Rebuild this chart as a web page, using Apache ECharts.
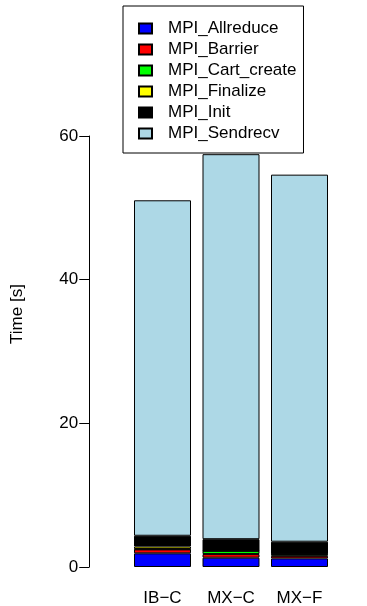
<!DOCTYPE html>
<html>
<head>
<meta charset="utf-8">
<script src="https://cdn.jsdelivr.net/npm/echarts@6/dist/echarts.min.js"></script>
<style>
html,body{margin:0;padding:0;background:#fff;}
#chart{width:367px;height:606px;}
</style>
</head>
<body>
<div id="chart"></div>
<script>
const categories = ['IB\u2212C', 'MX\u2212C', 'MX\u2212F'];
const seriesNames = ['MPI_Allreduce', 'MPI_Barrier', 'MPI_Cart_create', 'MPI_Finalize', 'MPI_Init', 'MPI_Sendrecv'];
const allreduce  = [1.9, 1.3, 1.2];
const barrier    = [0.55, 0.5, 0.35];
const cartCreate = [0.05, 0.45, 0.25];
const finalize   = [0.35, 0.02, 0.02];
const init       = [1.5, 1.6, 1.7];
const sendrecv   = [46.7, 53.6, 51.1];
const yTicks = [0, 20, 40, 60];
const yTitle = 'Time [s]';
const colors = ['#0000FF', '#FF0000', '#00FF00', '#FFFF00', '#000000', '#ADD8E6'];

const values = [allreduce, barrier, cartCreate, finalize, init, sendrecv];
const FONT = 'Liberation Sans, Arial, sans-serif';
const FS = 17;

const chart = echarts.init(document.getElementById('chart'), null, {renderer: 'canvas'});
chart.setOption({
  animation: false,
  backgroundColor: '#fff',
  textStyle: {fontFamily: FONT},
  grid: {left: 128.25, right: 33.25, top: 136, bottom: 39, containLabel: false, outerBoundsMode: 'none'},
  legend: {
    orient: 'vertical',
    left: 123, top: 6,
    padding: [14, 7, 11, 15],
    borderColor: '#000', borderWidth: 1,
    itemWidth: 13, itemHeight: 10,
    itemGap: 4,
    icon: 'rect',
    textStyle: {fontFamily: FONT, fontSize: FS, color: '#000', lineHeight: 17, padding: [0, 0, 0, 11]},
    data: seriesNames
  },
  graphic: [{
    type: 'text',
    x: 17, y: 314,
    rotation: Math.PI / 2,
    style: {text: yTitle, fontFamily: FONT, fontSize: FS, fill: '#000', textAlign: 'center', textVerticalAlign: 'middle'}
  }],
  xAxis: {
    type: 'category',
    data: categories,
    axisLine: {show: false},
    axisTick: {show: false},
    axisLabel: {fontFamily: FONT, fontSize: FS, color: '#000', margin: 23}
  },
  yAxis: {
    type: 'value',
    min: 0, max: 60, interval: 20,
    offset: 39,
    axisLine: {show: true, lineStyle: {color: '#000', width: 1}},
    axisTick: {show: true, length: 10, lineStyle: {color: '#000'}},
    axisLabel: {fontFamily: FONT, fontSize: FS, color: '#000', margin: 11,
      formatter: v => yTicks.includes(v) ? String(v) : ''},
    splitLine: {show: false}
  },
  series: seriesNames.map((n, i) => ({
    name: n,
    type: 'bar',
    stack: 'total',
    barWidth: 57,
    data: values[i],
    itemStyle: {color: colors[i], borderColor: '#000', borderWidth: 1}
  }))
});
</script>
</body>
</html>
